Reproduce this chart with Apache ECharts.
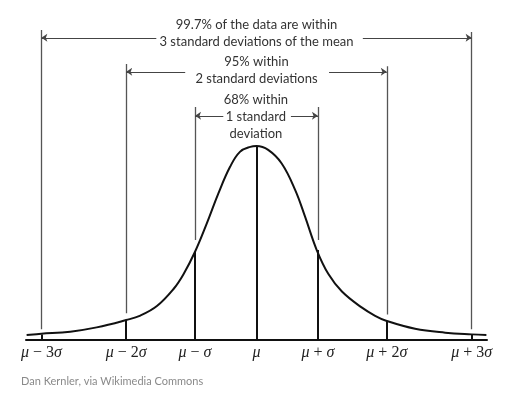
<!DOCTYPE html>
<html>
<head>
<meta charset="utf-8">
<script src="https://cdn.jsdelivr.net/npm/echarts@6/dist/echarts.min.js"></script>
<style>
html,body{margin:0;padding:0;background:#fff;}
#c{width:512px;height:396px;}
</style>
</head>
<body>
<div id="c"></div>
<script>
// Curve: x in sigma units (as drawn), height as % of peak
const curveX = [-3.74, -3.5, -3.03, -2.6, -2.12, -1.89, -1.62, -1.35, -1.19, -1.0, -0.81, -0.62, -0.43, -0.27, -0.1, 0, 0.19, 0.41, 0.63, 0.79, 0.98, 1.17, 1.39, 1.71, 1.93, 2.12, 2.58, 3.07, 3.5, 3.74];
const curveY = [2.6, 3.2, 4.3, 6.5, 10.3, 12.6, 17.5, 26.3, 33.8, 45.5, 60, 75.6, 89.3, 97, 99.6, 100, 98, 91, 77.3, 63.6, 46.4, 34, 25, 16.8, 12.5, 9.8, 5.8, 3.8, 2.9, 2.6];

// Tick positions and labels
const tickX = [-3.5, -2.12, -1.0, 0, 1.0, 2.12, 3.5];
const tickLabels = ['μ − 3σ', 'μ − 2σ', 'μ − σ', 'μ', 'μ + σ', 'μ + 2σ', 'μ + 3σ'];

// Vertical guide lines: black part (baseline to curve), grey part (above curve)
const curveAtTick = [2.9, 10.3, 45.5, 100, 46.4, 9.8, 2.9];
const greyBottom = [5.5, 13.8, 51.5, null, 51.5, 13.2, 5.5];
const greyTop = [159.8, 142.3, 120.1, null, 120.1, 141.2, 158.8];

// Arrows
const arrowLevel = [155.8, 138.3, 115.6];
const arrowSpan = [[-3.5, 3.5], [-2.12, 2.12], [-1.0, 1.0]];
const arrowGap = [[-1.63, 1.73], [-1.16, 1.18], [-0.54, 0.56]];

// Annotation texts
const annoText = ['99.7% of the data are within', '3 standard deviations of the mean', '95% within', '2 standard deviations', '68% within', '1 standard', 'deviation'];
const annoX = [0, 0, 0, 0, -0.01, -0.01, -0.01];
const annoY = [162.4, 153.6, 143.3, 134.5, 123.7, 115.1, 106.5];

const credit = 'Dan Kernler, via Wikimedia Commons';

const blackSegs = [];
const greySegs = [];
tickX.forEach((x, i) => {
  blackSegs.push({coords: [[x, 0], [x, curveAtTick[i]]]});
  if (greyTop[i] != null) greySegs.push({coords: [[x, greyBottom[i]], [x, greyTop[i]]]});
});
const arrowSegs = [];
arrowLevel.forEach((y, i) => {
  arrowSegs.push({coords: [[arrowGap[i][0], y], [arrowSpan[i][0], y]]});
  arrowSegs.push({coords: [[arrowGap[i][1], y], [arrowSpan[i][1], y]]});
});

const chart = echarts.init(document.getElementById('c'), null, {renderer: 'canvas'});
chart.setOption({
  animation: false,
  backgroundColor: '#fff',
  title: {
    text: credit, left: 16, top: 371,
    textStyle: {fontSize: 11, fontWeight: 'normal', color: '#8a8a8a', fontFamily: 'Lato'}
  },
  grid: {left: 26, right: 25, top: 20, bottom: 56},
  xAxis: {
    type: 'value', min: -3.75, max: 3.75,
    splitLine: {show: false},
    axisTick: {show: false},
    axisLine: {lineStyle: {color: '#111', width: 2}},
    axisLabel: {
      customValues: tickX,
      margin: 5,
      formatter: function (v) {
        let idx = 0, best = 1e9;
        tickX.forEach((t, i) => { const d = Math.abs(t - v); if (d < best) { best = d; idx = i; } });
        return tickLabels[idx].replace(/([μσ])/g, '{i|$1}');
      },
      fontFamily: 'Liberation Serif', fontSize: 16, color: '#222',
      rich: {i: {fontFamily: 'Liberation Serif', fontStyle: 'italic', fontSize: 16, color: '#222'}}
    }
  },
  yAxis: {type: 'value', min: 0, max: 165, show: false},
  series: [
    {
      type: 'lines', coordinateSystem: 'cartesian2d',
      data: greySegs, symbol: 'none',
      lineStyle: {color: '#555', width: 1.3, opacity: 1}, z: 2
    },
    {
      type: 'lines', coordinateSystem: 'cartesian2d',
      data: blackSegs, symbol: 'none',
      lineStyle: {color: '#111', width: 2, opacity: 1}, z: 3
    },
    {
      type: 'lines', coordinateSystem: 'cartesian2d',
      data: arrowSegs, symbol: ['none', 'arrow'], symbolSize: 6,
      lineStyle: {color: '#444', width: 1.2, opacity: 1}, z: 2
    },
    {
      type: 'line', data: curveX.map((x, i) => [x, curveY[i]]),
      smooth: 0.4, showSymbol: false, symbol: 'none',
      lineStyle: {color: '#111', width: 2}, z: 4
    },
    {
      type: 'custom', coordinateSystem: 'cartesian2d',
      data: annoX.map((x, i) => [x, annoY[i]]),
      renderItem: function (params, api) {
        const p = api.coord([api.value(0), api.value(1)]);
        return {
          type: 'text', x: p[0], y: p[1],
          style: {
            text: annoText[params.dataIndex], align: 'center', verticalAlign: 'middle',
            fontFamily: 'Lato', fontSize: 13, fill: '#333'
          }
        };
      }, z: 5
    }
  ]
});
</script>
</body>
</html>
